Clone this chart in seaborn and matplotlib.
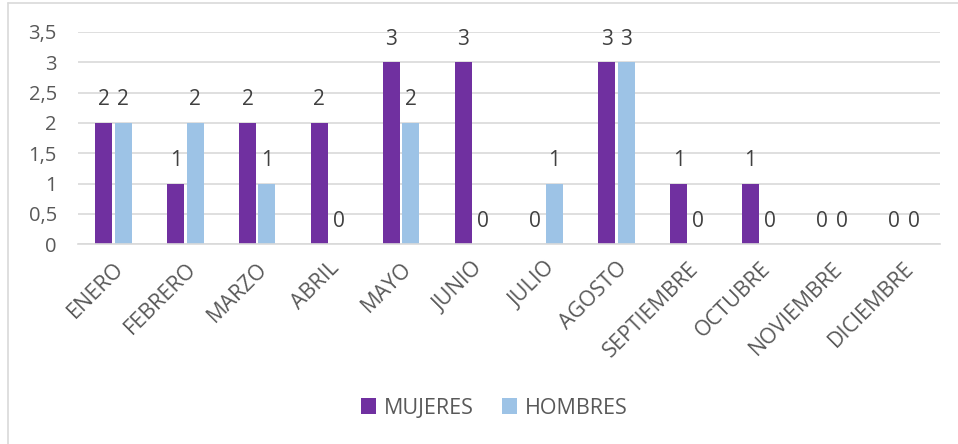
import pandas as pd
import seaborn as sns
from matplotlib import pyplot as plt
from matplotlib.lines import Line2D

months = ['ENERO', 'FEBRERO', 'MARZO', 'ABRIL', 'MAYO', 'JUNIO', 'JULIO',
          'AGOSTO', 'SEPTIEMBRE', 'OCTUBRE', 'NOVIEMBRE', 'DICIEMBRE']
mujeres = [2, 1, 2, 2, 3, 3, 0, 3, 1, 1, 0, 0]
hombres = [2, 2, 1, 0, 2, 0, 1, 3, 0, 0, 0, 0]
y_ticks = [0, 0.5, 1, 1.5, 2, 2.5, 3, 3.5]
y_tick_labels = ['0', '0,5', '1', '1,5', '2', '2,5', '3', '3,5']

df = pd.DataFrame({
    'Mes': months * 2,
    'Valor': mujeres + hombres,
    'Sexo': ['MUJERES'] * len(months) + ['HOMBRES'] * len(months),
})

sns.set_theme(style='white')
plt.rcParams['font.family'] = ['Open Sans', 'DejaVu Sans']
text_color = '#595959'

fig = plt.figure(figsize=(9.58, 4.44), dpi=100)
ax = fig.add_axes([0.081, 0.450, 0.900, 0.478])

sns.barplot(data=df, x='Mes', y='Valor', hue='Sexo', order=months,
            hue_order=['MUJERES', 'HOMBRES'],
            palette={'MUJERES': '#7030A0', 'HOMBRES': '#9DC3E6'},
            width=0.54, gap=0.12, saturation=1, linewidth=0, ax=ax)

for container in ax.containers:
    ax.bar_label(container, fmt='%g', padding=9, fontsize=15, color='#404040')

ax.set_ylim(0, 3.5)
ax.set_xlim(-0.5, len(months) - 0.5)
ax.set_yticks(y_ticks)
ax.set_yticklabels(y_tick_labels)
ax.yaxis.grid(True, color='#D9D9D9', linewidth=1.2)
ax.set_axisbelow(True)
ax.set_xlabel('')
ax.set_ylabel('')
for side in ['top', 'right', 'left']:
    ax.spines[side].set_visible(False)
ax.spines['bottom'].set_color('#D9D9D9')
ax.spines['bottom'].set_linewidth(1.2)
ax.tick_params(axis='y', length=0, labelsize=14.5, labelcolor=text_color, pad=15)
ax.tick_params(axis='x', length=0, labelsize=15.5, labelcolor=text_color, pad=10)
plt.setp(ax.get_xticklabels(), rotation=45, ha='right', rotation_mode='anchor')

leg = ax.legend(loc='center', bbox_to_anchor=(0.516, 0.081), bbox_transform=fig.transFigure,
                ncol=2, frameon=False, fontsize=15.5, handlelength=0.7, handleheight=0.7,
                handletextpad=0.35, columnspacing=1.3)
for t in leg.get_texts():
    t.set_color(text_color)

# chart frame (left and top edges visible)
fig.add_artist(Line2D([8 / 958, 8 / 958], [0, 1 - 3 / 444], color='#D9D9D9', linewidth=1.2))
fig.add_artist(Line2D([8 / 958, 1], [1 - 3 / 444, 1 - 3 / 444], color='#D9D9D9', linewidth=1.2))

fig.savefig('out.png', dpi=100)
